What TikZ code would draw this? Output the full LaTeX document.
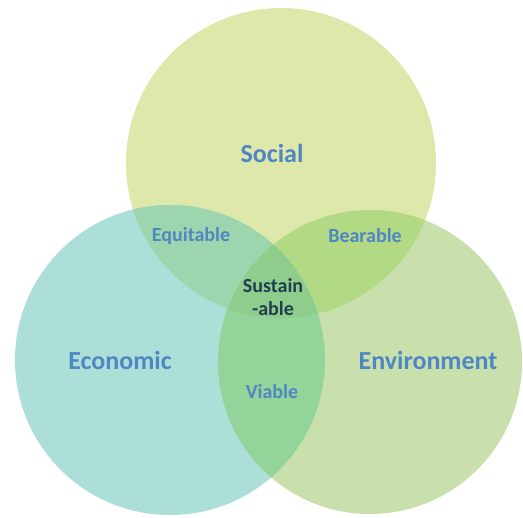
\documentclass[tikz,border=0pt]{standalone}
\usepackage{fontspec}
\setmainfont{Carlito}
\definecolor{socC}{HTML}{DDE8AA}
\definecolor{ecoC}{HTML}{ADDFD9}
\definecolor{envC}{HTML}{C9E0AD}
\definecolor{seC}{HTML}{9DD6AE}
\definecolor{snC}{HTML}{B2DA84}
\definecolor{enC}{HTML}{93D49A}
\definecolor{allC}{HTML}{8ECD8C}
\definecolor{lblC}{HTML}{4F86C4}
\definecolor{darkC}{HTML}{1F3F4F}
\tikzset{
  lbl/.style={text=lblC, font=\bfseries\fontsize{20}{23}\selectfont, inner sep=0pt},
  biglbl/.style={text=lblC, font=\bfseries\fontsize{26}{28}\selectfont, inner sep=0pt},
  midlbl/.style={text=darkC, font=\bfseries\fontsize{20}{23}\selectfont, inner sep=0pt, align=center},
}
\begin{document}
\begin{tikzpicture}[x=1pt,y=-1pt]
\useasboundingbox (0,0) rectangle (523,518);
\def\soc{(281,163) circle (155)}
\def\eco{(170,360) circle (155)}
\def\env{(370,362) circle (152)}
\fill[socC] \soc;
\fill[ecoC] \eco;
\fill[envC] \env;
\begin{scope}\clip \soc; \fill[seC] \eco; \end{scope}
\begin{scope}\clip \soc; \fill[snC] \env; \end{scope}
\begin{scope}\clip \eco; \fill[enC] \env; \end{scope}
\begin{scope}\clip \soc; \clip \eco; \fill[allC] \env; \end{scope}
\node[biglbl] (social) at (272,153) {Social};
\node[biglbl] (economic) at (120,360) {Economic};
\node[biglbl] (environment) at (428,360) {Environment};
\node[lbl] (equitable) at (191,236) {Equitable};
\node[lbl] (bearable) at (365,236) {Bearable};
\node[lbl] (viable) at (272,392) {Viable};
\node[midlbl] (sustainable) at (273,297) {Sustain\\-able};
\end{tikzpicture}
\end{document}
